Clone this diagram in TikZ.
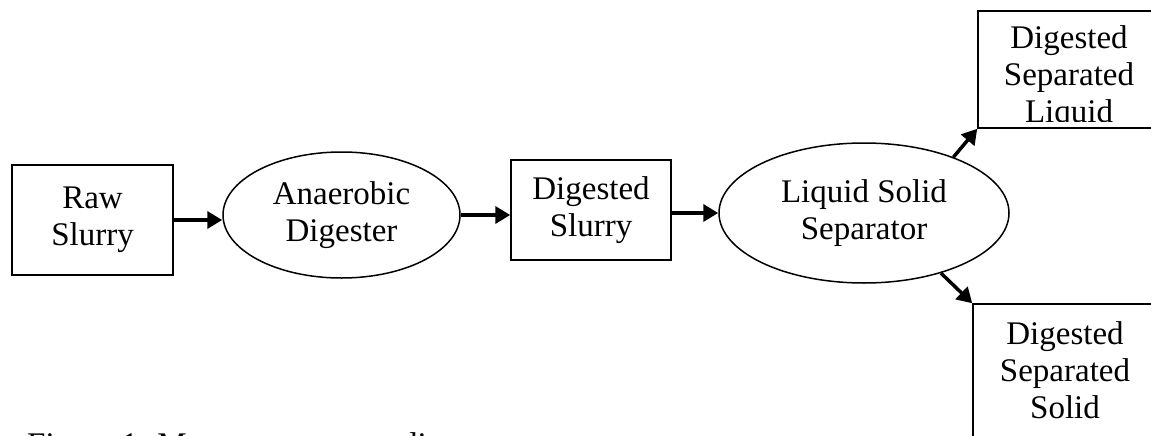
\documentclass[tikz,border=0pt]{standalone}
\usepackage{fontspec}
\setmainfont{Liberation Serif}
\usetikzlibrary{arrows.meta,shapes.geometric}
\begin{document}
\begin{tikzpicture}[x=1pt,y=-1pt,
  every node/.style={font=\fontsize{33}{37}\selectfont, align=center, inner sep=0pt},
  sqbox/.style={draw, line width=1.5pt, rectangle},
  oval/.style={draw, line width=1.5pt, ellipse},
  flow/.style={line width=3.5pt, -{Triangle[length=15pt,width=17pt]}},
]
\clip (0,0) rectangle (1151,436);
\node[sqbox, minimum width=161pt, minimum height=110pt] (raw) at (92.5,220) {Raw\\Slurry};
\node[oval, minimum width=237pt, minimum height=126pt] (ana) at (341.5,215) {Anaerobic\\Digester};
\node[sqbox, minimum width=160pt, minimum height=100pt] (dig) at (591,210) {Digested\\Slurry};
\node[oval, minimum width=290pt, minimum height=140pt] (sep) at (864,213) {Liquid Solid\\Separator};
\node[sqbox, minimum width=182pt, minimum height=117pt] (liq) at (1069,69.5) {};
\node[sqbox, minimum width=184pt, minimum height=156pt] (sol) at (1065,382) {};
\begin{scope}
  \clip (liq.north west) rectangle ([yshift=7pt]liq.south east);
  \node[anchor=north] (liqt) at ([yshift=-15.5pt]liq.north) {Digested\\Separated\\Liquid};
\end{scope}
\node[anchor=north] (solt) at ([yshift=-18.5pt]sol.north) {Digested\\Separated\\Solid};
\draw[flow] (raw.east) -- (raw.east -| ana.west);
\draw[flow] (ana.east) -- (ana.east -| dig.west);
\draw[flow] (sep.west -| dig.east) -- (sep.west);
\draw[flow] (sep.32) -- (liq.south west);
\draw[flow] (sep.-38) -- (sol.north west);
\node[anchor=base west] (cap) at (27,455) {Figure 1. Manure treatment diagram};
\end{tikzpicture}
\end{document}
